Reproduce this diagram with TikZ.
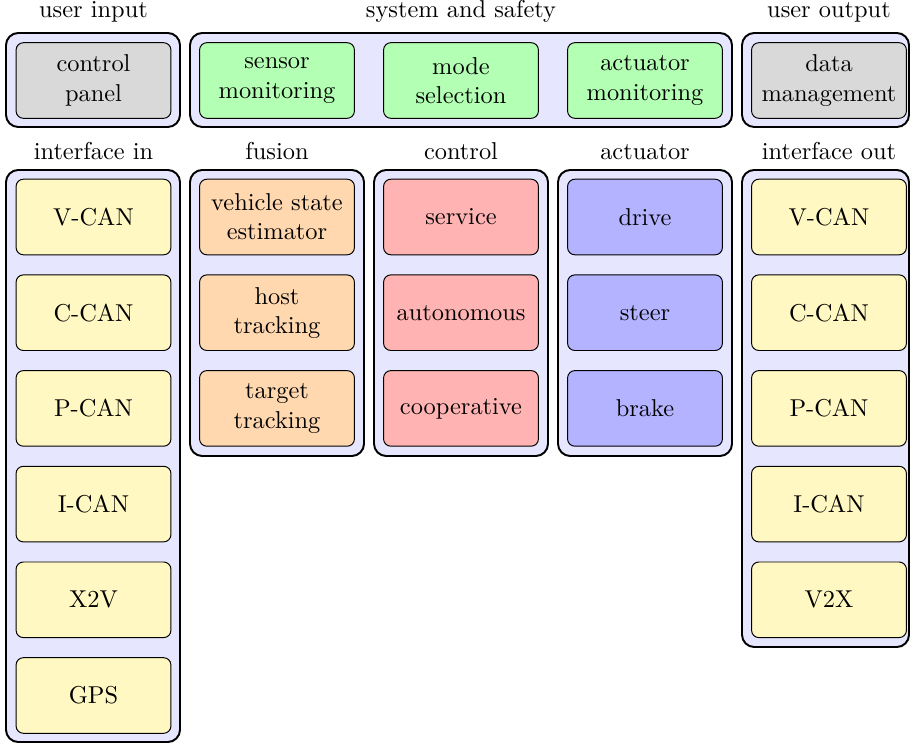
\documentclass[tikz,border=0pt]{standalone}
\usepackage{tikz}

\definecolor{framefill}{RGB}{230,230,255}
\definecolor{userfill}{RGB}{217,217,217}
\definecolor{safefill}{RGB}{179,255,179}
\definecolor{busfill}{RGB}{255,248,194}
\definecolor{fusefill}{RGB}{255,216,176}
\definecolor{ctrlfill}{RGB}{255,179,179}
\definecolor{actfill}{RGB}{179,179,255}

\begin{document}
\begin{tikzpicture}[x=0.41pt,y=-0.41pt,
    frame/.style={draw=black, thick, fill=framefill, rounded corners=5pt},
    unitbox/.style={draw=black, rounded corners=3pt, inner sep=0pt,
        minimum width=63.5pt, minimum height=31pt, align=center},
    grouptitle/.style={anchor=base}]
                \useasboundingbox (0, 0) rectangle (910, 745);
                % Group frames, top row
                \draw [frame] (6, 33) rectangle (180, 127);
                \draw [frame] (190, 33) rectangle (732, 127);
                \draw [frame] (742, 33) rectangle (909, 127);
                % Group frames, bottom row
                \draw [frame] (6, 170) rectangle (180, 742);
                \draw [frame] (190, 170) rectangle (364, 456);
                \draw [frame] (374, 170) rectangle (548, 456);
                \draw [frame] (558, 170) rectangle (732, 456);
                \draw [frame] (742, 170) rectangle (909, 647);
                % Group titles
                \node [grouptitle] (ttlin) at (93.5, 18) {user input};
                \node [grouptitle] (ttlsys) at (461, 18) {system and safety};
                \node [grouptitle] (ttlout) at (829, 18) {user output};
                \node [grouptitle] (ttlifin) at (93.5, 160) {interface in};
                \node [grouptitle] (ttlfus) at (277, 160) {fusion};
                \node [grouptitle] (ttlctrl) at (461, 160) {control};
                \node [grouptitle] (ttlact) at (645, 160) {actuator};
                \node [grouptitle] (ttlifout) at (829, 160) {interface out};
                % User input / output and safety
                \node [unitbox, fill=userfill] (panel) at (93.5, 80.5) {control\\panel};
                \node [unitbox, fill=safefill] (sensmon) at (277, 80.5) {sensor\\monitoring};
                \node [unitbox, fill=safefill] (modesel) at (461, 80.5) {mode\\selection};
                \node [unitbox, fill=safefill] (actmon) at (645, 80.5) {actuator\\monitoring};
                \node [unitbox, fill=userfill] (datamgmt) at (829, 80.5) {data\\management};
                % Interface in
                \node [unitbox, fill=busfill] (vcanin) at (93.5, 217) {V-CAN};
                \node [unitbox, fill=busfill] (ccanin) at (93.5, 312.7) {C-CAN};
                \node [unitbox, fill=busfill] (pcanin) at (93.5, 408.4) {P-CAN};
                \node [unitbox, fill=busfill] (icanin) at (93.5, 504.1) {I-CAN};
                \node [unitbox, fill=busfill] (x2v) at (93.5, 599.8) {X2V};
                \node [unitbox, fill=busfill] (gps) at (93.5, 695.5) {GPS};
                % Fusion
                \node [unitbox, fill=fusefill] (vse) at (277, 217) {vehicle state\\estimator};
                \node [unitbox, fill=fusefill] (hosttrk) at (277, 312.7) {host\\tracking};
                \node [unitbox, fill=fusefill] (tgttrk) at (277, 408.4) {target\\tracking};
                % Control
                \node [unitbox, fill=ctrlfill] (service) at (461, 217) {service};
                \node [unitbox, fill=ctrlfill] (autonom) at (461, 312.7) {autonomous};
                \node [unitbox, fill=ctrlfill] (coop) at (461, 408.4) {cooperative};
                % Actuator
                \node [unitbox, fill=actfill] (drive) at (645, 217) {drive};
                \node [unitbox, fill=actfill] (steer) at (645, 312.7) {steer};
                \node [unitbox, fill=actfill] (brake) at (645, 408.4) {brake};
                % Interface out
                \node [unitbox, fill=busfill] (vcanout) at (829, 217) {V-CAN};
                \node [unitbox, fill=busfill] (ccanout) at (829, 312.7) {C-CAN};
                \node [unitbox, fill=busfill] (pcanout) at (829, 408.4) {P-CAN};
                \node [unitbox, fill=busfill] (icanout) at (829, 504.1) {I-CAN};
                \node [unitbox, fill=busfill] (v2x) at (829, 599.8) {V2X};
\end{tikzpicture}
\end{document}
